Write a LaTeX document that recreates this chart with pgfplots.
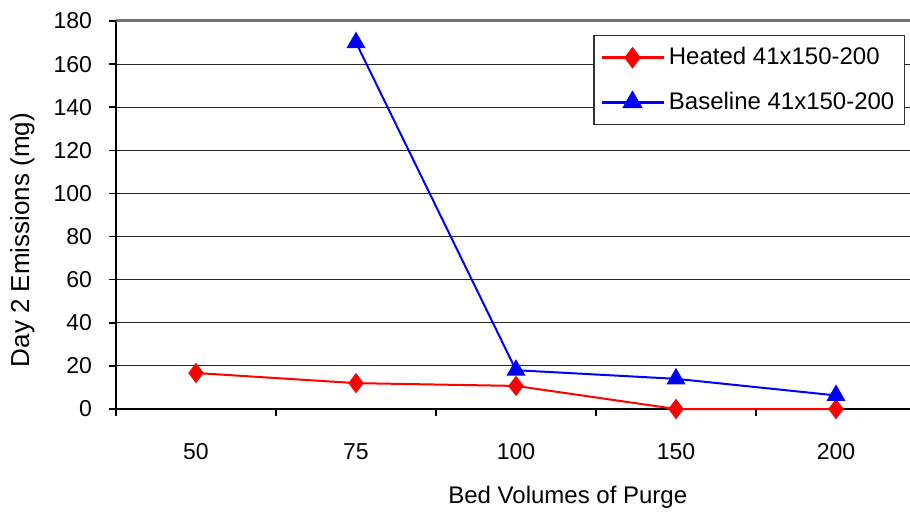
\documentclass[border=0pt]{standalone}
\usepackage{fontspec}
\setmainfont{Liberation Sans}
\usepackage{pgfplots}
\pgfplotsset{compat=1.18}
\begin{document}
\begin{tikzpicture}
\begin{axis}[
  scale only axis,
  width=397pt, height=194pt,
  xmin=-0.5, xmax=4.4625,
  ymin=0, ymax=180,
  clip=false,
  axis x line*=bottom,
  axis y line*=left,
  axis line style={black, line width=1pt},
  tick align=outside,
  xtick={0,1,2,3,4},
  xticklabels={50,75,100,150,200},
  major x tick style={draw=none},
  minor xtick={-0.5,0.5,1.5,2.5,3.5},
  minor tick length=3.5pt,
  minor x tick style={black, line width=0.8pt},
  ytick={0,20,...,180},
  major tick length=3.5pt,
  major y tick style={black, line width=0.8pt},
  ymajorgrids=true,
  grid style={black!85, line width=0.55pt},
  /pgf/number format/assume math mode=true,
  tick label style={font=\fontsize{11.5}{14}\selectfont},
  xticklabel style={anchor=center, yshift=-18pt},
  yticklabel style={anchor=east, xshift=-5pt},
  xlabel={Bed Volumes of Purge},
  ylabel={Day 2 Emissions (mg)},
  every axis x label/.style={at={([yshift=-44pt]rel axis cs:0.569,0)}, anchor=center,
    font=\fontsize{12}{14}\selectfont},
  every axis y label/.style={at={([xshift=-46.75pt]rel axis cs:0,0.4356)}, anchor=center, rotate=90,
    font=\fontsize{13}{15}\selectfont},
  legend cell align=left,
  legend style={at={(rel axis cs:0.9937,0.964)}, anchor=north east,
    draw=black!80, fill=white, line width=0.6pt,
    font=\fontsize{12}{14}\selectfont, row sep=8pt,
    inner xsep=3pt, inner ysep=4pt},
  legend image code/.code={
    \draw[mark repeat=2, mark phase=2, #1, line width=1.4pt] plot coordinates {(0pt,0pt) (15.5pt,0pt) (31pt,0pt)};
  },
]
\addplot[color=red, line width=1pt, mark=diamond*, mark size=4.3pt, mark options={fill=red, solid}]
coordinates {
(0, 16.7)
(1, 12.0)
(2, 10.7)
(3, 0)
(4, 0)
};
\addlegendentry{Heated 41x150-200}
\addplot[color=blue, line width=1pt, mark=triangle*, mark size=4.5pt, mark options={fill=blue, solid}]
coordinates {
(1, 170)
(2, 18)
(3, 14)
(4, 6.3)
};
\addlegendentry{Baseline 41x150-200}
\coordinate (sw) at (rel axis cs:0,0);
\coordinate (ne) at (rel axis cs:1,1);
\end{axis}
\draw[black!55, line width=1.5pt] (sw |- ne) -- (ne);
\pgfresetboundingbox
\path[use as bounding box] ([xshift=-58pt, yshift=-52.5pt]sw) rectangle ([yshift=10.5pt]ne);
\end{tikzpicture}
\end{document}
